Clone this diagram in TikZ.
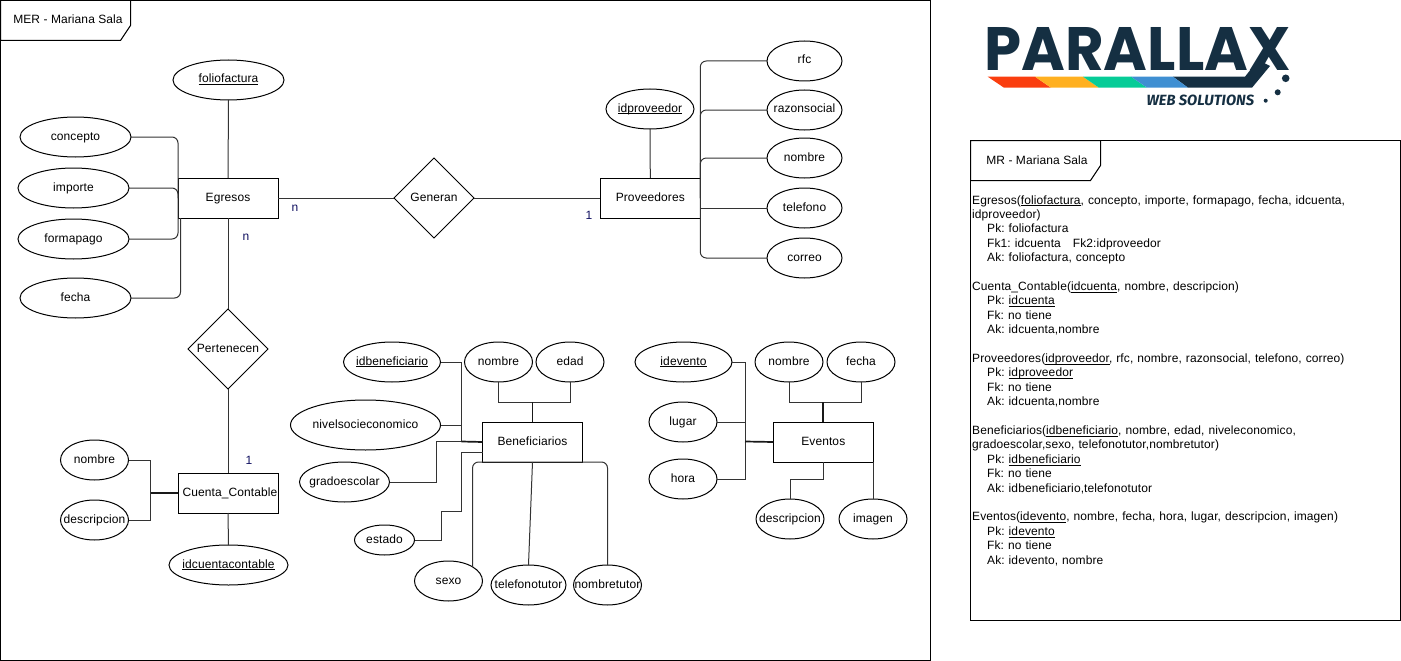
\documentclass[tikz,border=0pt]{standalone}
\usepackage{fontspec}
\usepackage{graphicx}
\usetikzlibrary{shapes.geometric,calc}
\setmainfont{Liberation Sans}[LetterSpace=0.8]
\newfontfamily\logofont{Poppins}
\newfontfamily\logosub{Fira Sans}
\definecolor{logodark}{HTML}{152F42}
\definecolor{logored}{HTML}{FA3E0F}
\definecolor{logoorange}{HTML}{FFB020}
\definecolor{logogreen}{HTML}{06CC97}
\definecolor{logoblue}{HTML}{3F8FD2}
\definecolor{lbl}{HTML}{101060}
\newcommand{\ulx}[1]{\leavevmode\setbox0\hbox{#1}\rlap{\rule[-2pt]{\wd0}{0.8pt}}#1}
\newcommand{\ind}{\hspace*{15pt}}
\frenchspacing
\tikzset{
  base txt/.style={font=\fontsize{12}{14.4}\selectfont\frenchspacing,text height=9pt,text depth=3pt,inner sep=0pt,outer sep=0pt},
  attr/.style={base txt,ellipse,draw,line width=1pt,fill=white,minimum height=40pt,
    execute at begin node={\hbox to 0pt\bgroup\hss},execute at end node={\hss\egroup}},
  entity/.style={base txt,rectangle,draw,line width=1pt,fill=white,minimum width=100pt,minimum height=40pt},
  rel/.style={base txt,diamond,draw,line width=1pt,fill=white,minimum width=80pt,minimum height=80pt},
  conn/.style={draw=black!80,line width=1pt},
  trunk/.style={draw=black!90,line width=1.7pt},
  round conn/.style={conn,rounded corners=6pt},
  framebox/.style={draw,line width=1pt},
  card/.style={base txt,text=lbl},
}
\begin{document}
\begin{tikzpicture}[x=1pt,y=-1pt]
\useasboundingbox (0,0) rectangle (1401,661);
% frames
\node[framebox,rectangle,minimum width=930pt,minimum height=660pt,inner sep=0pt,outer sep=0pt] (merframe) at (465.5,330.5) {};
\draw[framebox] (0.5,0.5) -- (130.5,0.5) -- (130.5,25.5) -- (120.5,40.5) -- (0.5,40.5) -- cycle;
\node[base txt] (mertitle) at (68,20.5) {MER - Mariana Sala};
\node[framebox,rectangle,minimum width=430pt,minimum height=480pt,inner sep=0pt,outer sep=0pt] (mrframe) at (1185.5,380.5) {};
\draw[framebox] (970.5,140.5) -- (1100.5,140.5) -- (1100.5,165.5) -- (1090.5,180.5) -- (970.5,180.5) -- cycle;
\node[base txt] (mrtitle) at (1037,161) {MR - Mariana Sala};
% entities
\node[entity] (egresos) at (228,198) {Egresos};
\node[entity] (cuenta) at (228,493) {\hspace*{4pt}Cuenta\_Contable};
\node[entity] (prov) at (650.3,198) {Proveedores};
\node[entity] (benef) at (532.5,442) {Beneficiarios};
\node[entity] (eventos) at (823.3,442) {Eventos};
% relations
\node[rel] (generan) at (434,198) {Generan};
\node[rel] (pertenecen) at (228,349) {Pertenecen};
% Egresos attributes
\node[attr,minimum width=111pt] (foliofactura) at (228.5,80) {\ulx{foliofactura}};
\node[attr,minimum width=111pt] (concepto) at (75.5,137) {concepto};
\node[attr,minimum width=111pt] (importe) at (73.5,188) {importe};
\node[attr,minimum width=111pt] (formapago) at (73.5,239) {formapago};
\node[attr,minimum width=111pt] (fechaeg) at (75.5,298) {fecha};
% Cuenta attributes
\node[attr,minimum width=68pt] (nombrecu) at (94.5,460) {nombre};
\node[attr,minimum width=68pt] (descrcu) at (94.5,520) {descripcion};
\node[attr,minimum width=119pt] (idcuenta) at (228.5,565) {\ulx{idcuentacontable}};
% Proveedores attributes
\node[attr,minimum width=88pt] (idprov) at (650,109) {\ulx{idproveedor}};
\node[attr,minimum width=75pt] (rfc) at (804.5,61) {rfc};
\node[attr,minimum width=75pt] (razon) at (804.5,110) {razonsocial};
\node[attr,minimum width=75pt] (nombrepr) at (804.5,158) {nombre};
\node[attr,minimum width=75pt] (telefono) at (804.5,208) {telefono};
\node[attr,minimum width=75pt] (correo) at (804.5,258) {correo};
% Beneficiarios attributes
\node[attr,minimum width=97pt] (idbenef) at (392,362) {\ulx{idbeneficiario}};
\node[attr,minimum width=68pt] (nombrebe) at (498.5,362) {nombre};
\node[attr,minimum width=68pt] (edad) at (570,362) {edad};
\node[attr,minimum width=150pt,minimum height=50pt] (nivel) at (365.5,425) {nivelsocieconomico};
\node[attr,minimum width=90pt] (grado) at (344.5,482) {gradoescolar};
\node[attr,minimum width=60pt,minimum height=30pt] (estado) at (384.5,540) {estado};
\node[attr,minimum width=68pt] (sexo) at (448.5,581) {sexo};
\node[attr,minimum width=75pt] (telefonot) at (528.5,585) {telefonotutor};
\node[attr,minimum width=68pt] (nombret) at (607.5,585) {nombretutor};
% Eventos attributes
\node[attr,minimum width=97pt] (idevento) at (683.5,362) {\ulx{idevento}};
\node[attr,minimum width=68pt] (nombreev) at (789,362) {nombre};
\node[attr,minimum width=68pt] (fechaev) at (861,362) {fecha};
\node[attr,minimum width=68pt] (lugar) at (683,422) {lugar};
\node[attr,minimum width=68pt] (hora) at (683,479) {hora};
\node[attr,minimum width=68pt] (descrev) at (790,519) {descripcion};
\node[attr,minimum width=68pt] (imagen) at (873,519) {imagen};
% cardinalities
\node[card] (cardn1) at (295,208) {n};
\node[card] (cardn2) at (246,237) {n};
\node[card] (card1a) at (589,216) {1};
\node[card] (card1b) at (249,461) {1};
% waypoints
\coordinate (egfecha) at ($(egresos.south west)+(2.5,0)$);
\coordinate (cj) at (150.5,493);
\coordinate (bj) at (461.5,441.5);
\coordinate (bg) at (436,441.5);
\coordinate (bt) at (532.5,402);
\coordinate (e1) at (441,511);
\coordinate (e2) at (461,511);
\coordinate (e3) at (461,452);
\coordinate (ej) at (745,441.5);
\coordinate (et) at (823.3,402);
\coordinate (eb) at (823.3,479);
% connectors
\draw[conn] (foliofactura.south) -- (egresos.north);
\draw[round conn] (concepto.east) -| (egresos.west);
\draw[round conn] (importe.east) -| (egresos.west);
\draw[round conn] (formapago.east) -| (egresos.west);
\draw[round conn] (fechaeg.east) -| (egfecha);
\draw[conn] (egresos.east) -- (generan.west);
\draw[conn] (generan.east) -- (prov.west);
\draw[conn] (egresos.south) -- (pertenecen.north);
\draw[conn] (pertenecen.south) -- (cuenta.north);
\draw[conn] (nombrecu.east) -| (cj);
\draw[conn] (descrcu.east) -| (cj);
\draw[trunk] (cj) -- (cuenta.west);
\draw[conn] (cuenta.south) -- (idcuenta.north);
\draw[conn] (idprov.south) -- (prov.north);
\draw[round conn] (rfc.west) -| (prov.east);
\draw[round conn] (razon.west) -| (prov.east);
\draw[round conn] (nombrepr.west) -| (prov.east);
\draw[conn] (telefono.west) -- (telefono.west -| prov.east);
\draw[round conn] (correo.west) -| (prov.east);
\draw[conn] (idbenef.east) -| (bj);
\draw[conn] (nivel.east) -| (bj);
\draw[conn] (grado.east) -| (bg) -- (bj);
\draw[trunk] (bj) -- (benef.west);
\draw[conn] (estado.east) -| (e1) -- (e2) -- (e3) -- (e3 -| benef.west);
\draw[round conn] (sexo.north east) |- (benef.south);
\draw[conn] (telefonot.north) -- (benef.south);
\draw[round conn] (nombret.north) |- (benef.south);
\draw[conn] (nombrebe.south) |- (bt);
\draw[conn] (edad.south) |- (bt);
\draw[trunk] (bt) -- (benef.north);
\draw[conn] (idevento.east) -| (ej);
\draw[conn] (lugar.east) -| (ej);
\draw[conn] (hora.east) -| (ej);
\draw[trunk] (ej) -- (eventos.west);
\draw[conn] (nombreev.south) |- (et);
\draw[conn] (fechaev.south) |- (et);
\draw[trunk] (et) -- (eventos.north);
\draw[conn] (eventos.south) -- (eb) -| (descrev.north);
\draw[conn] (imagen.north) -- (imagen.north |- eventos.south);
% relational model text
\node[font=\fontsize{12}{14.4}\selectfont\frenchspacing,anchor=north west,inner sep=0pt,align=left,text width=428pt] (mrtext) at (972,195.3) {%
Egresos(\ulx{foliofactura}, concepto, importe, formapago, fecha, idcuenta,\\
idproveedor)\\
\ind Pk: foliofactura\\
\ind Fk1: idcuenta\ \ \ Fk2:idproveedor\\
\ind Ak: foliofactura, concepto\\
\mbox{}\\
Cuenta\_Contable(\ulx{idcuenta}, nombre, descripcion)\\
\ind Pk: \ulx{idcuenta}\\
\ind Fk: no tiene\\
\ind Ak: idcuenta,nombre\\
\mbox{}\\
Proveedores(\ulx{idproveedor}, rfc, nombre, razonsocial, telefono, correo)\\
\ind Pk: \ulx{idproveedor}\\
\ind Fk: no tiene\\
\ind Ak: idcuenta,nombre\\
\mbox{}\\
Beneficiarios(\ulx{idbeneficiario}, nombre, edad, niveleconomico,\\
gradoescolar,sexo, telefonotutor,nombretutor)\\
\ind Pk: \ulx{idbeneficiario}\\
\ind Fk: no tiene\\
\ind Ak: idbeneficiario,telefonotutor\\
\mbox{}\\
Eventos(\ulx{idevento}, nombre, fecha, hora, lugar, descripcion, imagen)\\
\ind Pk: \ulx{idevento}\\
\ind Fk: no tiene\\
\ind Ak: idevento, nombre};
% logo
\node[inner sep=0pt,text=logodark] (logotext) at (1137.5,48.5) {\resizebox{306pt}{43pt}{\logofont\bfseries PARALLAX}};
\fill[logodark] (1173,76.7) -- (1245,76.7) -- (1258,60) -- (1270,66) -- (1252,87.7) -- (1188,87.7) -- cycle;
\fill[logored] (987.7,76.7) -- (1035,76.7) -- (1051,87.7) -- (1004,87.7) -- cycle;
\fill[logoorange] (1035,76.7) -- (1083,76.7) -- (1099,87.7) -- (1051,87.7) -- cycle;
\fill[logogreen] (1083,76.7) -- (1131,76.7) -- (1147,87.7) -- (1099,87.7) -- cycle;
\fill[logoblue] (1131,76.7) -- (1173,76.7) -- (1188,87.7) -- (1147,87.7) -- cycle;
\fill[logodark] (1285.7,78.3) circle (3.8pt) (1277.7,92.3) circle (3pt) (1265.7,100.7) circle (2pt);
\node[inner sep=0pt,text=logodark] (logosub) at (1200.3,100.3) {\resizebox{107.5pt}{10.5pt}{\logosub\bfseries\itshape WEB SOLUTIONS}};
\end{tikzpicture}
\end{document}
